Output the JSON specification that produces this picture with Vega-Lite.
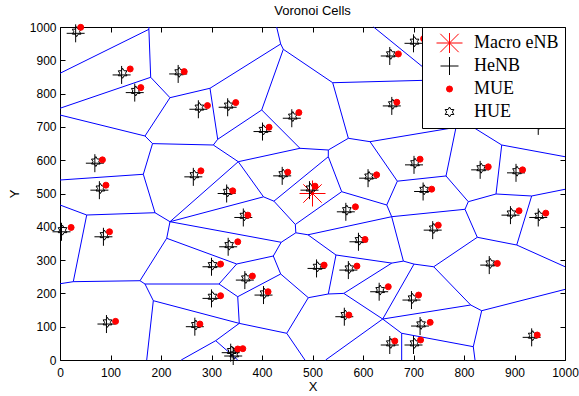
{
  "$schema": "https://vega.github.io/schema/vega-lite/v6.json",
  "width": 505,
  "height": 333,
  "autosize": {"type": "none"},
  "padding": {"left": 60, "top": 27, "right": 14, "bottom": 36},
  "background": "white",
  "title": {"text": "Voronoi Cells", "font": "Liberation Sans", "fontSize": 13, "fontWeight": "normal", "color": "black", "anchor": "middle", "offset": 3},
  "datasets": {
    "edges": [
      {"x":0,"y":861,"x2":176,"y2":993},
      {"x":176,"y":993,"x2":176,"y2":1000},
      {"x":176,"y":993,"x2":179.6,"y2":849},
      {"x":0,"y":756,"x2":179.6,"y2":849},
      {"x":179.6,"y":849,"x2":217.8,"y2":787.7},
      {"x":217.8,"y":787.7,"x2":297,"y2":816},
      {"x":297,"y":816,"x2":437,"y2":949},
      {"x":437,"y":949,"x2":429,"y2":1000},
      {"x":437,"y":949,"x2":442.2,"y2":933},
      {"x":442.2,"y":933,"x2":540,"y2":832.7},
      {"x":442.2,"y":933,"x2":399.4,"y2":750.8},
      {"x":297,"y":816,"x2":312.3,"y2":662.8},
      {"x":312.3,"y":662.8,"x2":399.4,"y2":750.8},
      {"x":217.8,"y":787.7,"x2":168.3,"y2":672.7},
      {"x":0,"y":735.7,"x2":168.3,"y2":672.7},
      {"x":168.3,"y":672.7,"x2":183.2,"y2":649.8},
      {"x":183.2,"y":649.8,"x2":303.6,"y2":645.6},
      {"x":303.6,"y":645.6,"x2":312.3,"y2":662.8},
      {"x":303.6,"y":645.6,"x2":353,"y2":595.5},
      {"x":183.2,"y":649.8,"x2":165,"y2":557.7},
      {"x":0,"y":540.5,"x2":165,"y2":557.7},
      {"x":165,"y":557.7,"x2":188.1,"y2":442.3},
      {"x":0,"y":465.5,"x2":52.9,"y2":435.4},
      {"x":52.9,"y":435.4,"x2":188.1,"y2":442.3},
      {"x":188.1,"y":442.3,"x2":217.8,"y2":415.3},
      {"x":217.8,"y":415.3,"x2":353,"y2":595.5},
      {"x":217.8,"y":415.3,"x2":403,"y2":490},
      {"x":353,"y":595.5,"x2":403,"y2":490},
      {"x":403,"y":490,"x2":423.6,"y2":477},
      {"x":353,"y":595.5,"x2":475.2,"y2":635.7},
      {"x":399.4,"y":750.8,"x2":475.2,"y2":635.7},
      {"x":475.2,"y":635.7,"x2":531.3,"y2":630.6},
      {"x":531.3,"y":630.6,"x2":571,"y2":665.8},
      {"x":531.3,"y":630.6,"x2":531.3,"y2":610.5},
      {"x":531.3,"y":610.5,"x2":423.6,"y2":477},
      {"x":531.3,"y":610.5,"x2":557.8,"y2":505.4},
      {"x":540,"y":832.7,"x2":571,"y2":665.8},
      {"x":571,"y":665.8,"x2":613.9,"y2":655.6},
      {"x":540,"y":832.7,"x2":750,"y2":841},
      {"x":621,"y":1000,"x2":750,"y2":841},
      {"x":613.9,"y":655.6,"x2":668,"y2":537},
      {"x":613.9,"y":655.6,"x2":784.2,"y2":698.8},
      {"x":668,"y":537,"x2":647,"y2":465.5},
      {"x":668,"y":537,"x2":764.4,"y2":552.6},
      {"x":557.8,"y":505.4,"x2":647,"y2":465.5},
      {"x":423.6,"y":477,"x2":466,"y2":407},
      {"x":466,"y":407,"x2":557.8,"y2":505.4},
      {"x":647,"y":465.5,"x2":656.8,"y2":430.3},
      {"x":656.8,"y":430.3,"x2":802,"y2":452.6},
      {"x":656.8,"y":430.3,"x2":680,"y2":297},
      {"x":784.2,"y":698.8,"x2":764.4,"y2":552.6},
      {"x":784.2,"y":698.8,"x2":799,"y2":717},
      {"x":874.7,"y":645.6,"x2":799,"y2":717},
      {"x":874.7,"y":645.6,"x2":1000,"y2":610.5},
      {"x":874.7,"y":645.6,"x2":863.4,"y2":498.5},
      {"x":764.4,"y":552.6,"x2":808.5,"y2":475.4},
      {"x":808.5,"y":475.4,"x2":863.4,"y2":498.5},
      {"x":808.5,"y":475.4,"x2":802,"y2":452.6},
      {"x":863.4,"y":498.5,"x2":934,"y2":492.5},
      {"x":934,"y":492.5,"x2":1000,"y2":512.6},
      {"x":934,"y":492.5,"x2":904.4,"y2":345.3},
      {"x":802,"y":452.6,"x2":826.3,"y2":368.5},
      {"x":826.3,"y":368.5,"x2":904.4,"y2":345.3},
      {"x":904.4,"y":345.3,"x2":1000,"y2":280.2},
      {"x":826.3,"y":368.5,"x2":740,"y2":280},
      {"x":740,"y":280,"x2":701,"y2":288},
      {"x":701,"y":288,"x2":680,"y2":297},
      {"x":740,"y":280,"x2":813.3,"y2":165.2},
      {"x":813.3,"y":165.2,"x2":835,"y2":148},
      {"x":835,"y":148,"x2":1000,"y2":212},
      {"x":835,"y":148,"x2":818.4,"y2":40},
      {"x":818.4,"y":40,"x2":821.8,"y2":0},
      {"x":813.3,"y":165.2,"x2":639,"y2":123},
      {"x":818.4,"y":40,"x2":676.6,"y2":80.2},
      {"x":639,"y":123,"x2":676.6,"y2":80.2},
      {"x":676.6,"y":80.2,"x2":676.6,"y2":0},
      {"x":639,"y":123,"x2":526,"y2":0},
      {"x":639,"y":123,"x2":701,"y2":288},
      {"x":639,"y":123,"x2":562,"y2":200},
      {"x":562,"y":200,"x2":657,"y2":291},
      {"x":562,"y":200,"x2":531.3,"y2":198.2},
      {"x":657,"y":291,"x2":680,"y2":297},
      {"x":657,"y":291,"x2":546.5,"y2":315.3},
      {"x":546.5,"y":315.3,"x2":531.3,"y2":198.2},
      {"x":546.5,"y":315.3,"x2":491,"y2":376},
      {"x":491,"y":376,"x2":656.8,"y2":430.3},
      {"x":491,"y":376,"x2":467,"y2":382},
      {"x":467,"y":382,"x2":466,"y2":407},
      {"x":467,"y":382,"x2":438,"y2":353.5},
      {"x":438,"y":353.5,"x2":217.8,"y2":415.3},
      {"x":438,"y":353.5,"x2":422.4,"y2":312.3},
      {"x":422.4,"y":312.3,"x2":437,"y2":258.3},
      {"x":422.4,"y":312.3,"x2":349.9,"y2":288.3},
      {"x":437,"y":258.3,"x2":491.7,"y2":187.1},
      {"x":491.7,"y":187.1,"x2":531.3,"y2":198.2},
      {"x":491.7,"y":187.1,"x2":449,"y2":80.2},
      {"x":437,"y":258.3,"x2":351.9,"y2":190.1},
      {"x":449,"y":80.2,"x2":355,"y2":110},
      {"x":449,"y":80.2,"x2":485,"y2":0},
      {"x":217.8,"y":415.3,"x2":211.3,"y2":365.5},
      {"x":211.3,"y":365.5,"x2":158.4,"y2":238.1},
      {"x":211.3,"y":365.5,"x2":349.9,"y2":288.3},
      {"x":52.9,"y":435.4,"x2":26.3,"y2":235.2},
      {"x":0,"y":229,"x2":26.3,"y2":235.2},
      {"x":26.3,"y":235.2,"x2":158.4,"y2":238.1},
      {"x":158.4,"y":238.1,"x2":168.3,"y2":228.2},
      {"x":168.3,"y":228.2,"x2":314.9,"y2":228.2},
      {"x":168.3,"y":228.2,"x2":184.8,"y2":178.1},
      {"x":184.8,"y":178.1,"x2":171.7,"y2":0},
      {"x":184.8,"y":178.1,"x2":355,"y2":110},
      {"x":314.9,"y":228.2,"x2":349.9,"y2":288.3},
      {"x":314.9,"y":228.2,"x2":351.9,"y2":190.1},
      {"x":351.9,"y":190.1,"x2":355,"y2":110},
      {"x":355,"y":110,"x2":308.3,"y2":58},
      {"x":308.3,"y":58,"x2":240,"y2":0},
      {"x":308.3,"y":58,"x2":352,"y2":0}
    ],
    "points": [
      {"type":"Macro eNB","x":500,"y":500},
      {"type":"HeNB","x":31,"y":981},{"type":"HeNB","x":122,"y":856},{"type":"HeNB","x":148,"y":803},{"type":"HeNB","x":234,"y":859},{"type":"HeNB","x":274,"y":753},{"type":"HeNB","x":332,"y":759},{"type":"HeNB","x":401,"y":686},{"type":"HeNB","x":459,"y":726},{"type":"HeNB","x":653,"y":913},{"type":"HeNB","x":700,"y":951},{"type":"HeNB","x":657,"y":763},{"type":"HeNB","x":947,"y":703},{"type":"HeNB","x":69,"y":591},{"type":"HeNB","x":78,"y":510},{"type":"HeNB","x":3,"y":385},{"type":"HeNB","x":86,"y":370},{"type":"HeNB","x":264,"y":550},{"type":"HeNB","x":330,"y":500},{"type":"HeNB","x":363,"y":428},{"type":"HeNB","x":333,"y":340},{"type":"HeNB","x":440,"y":553},{"type":"HeNB","x":494,"y":510},{"type":"HeNB","x":610,"y":546},{"type":"HeNB","x":701,"y":586},{"type":"HeNB","x":719,"y":506},{"type":"HeNB","x":566,"y":445},{"type":"HeNB","x":738,"y":390},{"type":"HeNB","x":591,"y":355},{"type":"HeNB","x":832,"y":571},{"type":"HeNB","x":903,"y":562},{"type":"HeNB","x":892,"y":435},{"type":"HeNB","x":947,"y":428},{"type":"HeNB","x":850,"y":285},{"type":"HeNB","x":934,"y":68},{"type":"HeNB","x":508,"y":275},{"type":"HeNB","x":571,"y":270},{"type":"HeNB","x":632,"y":205},{"type":"HeNB","x":403,"y":195},{"type":"HeNB","x":696,"y":180},{"type":"HeNB","x":563,"y":130},{"type":"HeNB","x":713,"y":102},{"type":"HeNB","x":653,"y":45},{"type":"HeNB","x":700,"y":45},{"type":"HeNB","x":92,"y":108},{"type":"HeNB","x":300,"y":280},{"type":"HeNB","x":300,"y":185},{"type":"HeNB","x":267,"y":100},{"type":"HeNB","x":366,"y":240},{"type":"HeNB","x":338,"y":22},{"type":"HeNB","x":343,"y":12},
      {"type":"HUE","x":33,"y":986},{"type":"HUE","x":124,"y":861},{"type":"HUE","x":150,"y":808},{"type":"HUE","x":236,"y":864},{"type":"HUE","x":276,"y":758},{"type":"HUE","x":334,"y":764},{"type":"HUE","x":403,"y":691},{"type":"HUE","x":461,"y":731},{"type":"HUE","x":655,"y":918},{"type":"HUE","x":702,"y":956},{"type":"HUE","x":659,"y":768},{"type":"HUE","x":949,"y":708},{"type":"HUE","x":71,"y":596},{"type":"HUE","x":80,"y":515},{"type":"HUE","x":5,"y":390},{"type":"HUE","x":88,"y":375},{"type":"HUE","x":266,"y":555},{"type":"HUE","x":332,"y":505},{"type":"HUE","x":365,"y":433},{"type":"HUE","x":335,"y":345},{"type":"HUE","x":442,"y":558},{"type":"HUE","x":496,"y":515},{"type":"HUE","x":612,"y":551},{"type":"HUE","x":703,"y":591},{"type":"HUE","x":721,"y":511},{"type":"HUE","x":568,"y":450},{"type":"HUE","x":740,"y":395},{"type":"HUE","x":593,"y":360},{"type":"HUE","x":834,"y":576},{"type":"HUE","x":905,"y":567},{"type":"HUE","x":894,"y":440},{"type":"HUE","x":949,"y":433},{"type":"HUE","x":852,"y":290},{"type":"HUE","x":936,"y":73},{"type":"HUE","x":510,"y":280},{"type":"HUE","x":573,"y":275},{"type":"HUE","x":634,"y":210},{"type":"HUE","x":405,"y":200},{"type":"HUE","x":698,"y":185},{"type":"HUE","x":565,"y":135},{"type":"HUE","x":715,"y":107},{"type":"HUE","x":655,"y":50},{"type":"HUE","x":702,"y":50},{"type":"HUE","x":94,"y":113},{"type":"HUE","x":302,"y":285},{"type":"HUE","x":302,"y":190},{"type":"HUE","x":269,"y":105},{"type":"HUE","x":368,"y":245},{"type":"HUE","x":340,"y":27},{"type":"HUE","x":345,"y":17},
      {"type":"MUE","x":41,"y":999},{"type":"MUE","x":139,"y":874},{"type":"MUE","x":160,"y":818},{"type":"MUE","x":246,"y":866},{"type":"MUE","x":292,"y":764},{"type":"MUE","x":348,"y":773},{"type":"MUE","x":414,"y":699},{"type":"MUE","x":473,"y":743},{"type":"MUE","x":670,"y":919},{"type":"MUE","x":720,"y":965},{"type":"MUE","x":667,"y":774},{"type":"MUE","x":84,"y":601},{"type":"MUE","x":91,"y":525},{"type":"MUE","x":22,"y":398},{"type":"MUE","x":98,"y":385},{"type":"MUE","x":279,"y":568},{"type":"MUE","x":342,"y":508},{"type":"MUE","x":372,"y":435},{"type":"MUE","x":352,"y":355},{"type":"MUE","x":451,"y":564},{"type":"MUE","x":505,"y":522},{"type":"MUE","x":627,"y":556},{"type":"MUE","x":713,"y":603},{"type":"MUE","x":736,"y":513},{"type":"MUE","x":585,"y":460},{"type":"MUE","x":749,"y":405},{"type":"MUE","x":604,"y":362},{"type":"MUE","x":848,"y":580},{"type":"MUE","x":916,"y":571},{"type":"MUE","x":909,"y":448},{"type":"MUE","x":962,"y":441},{"type":"MUE","x":866,"y":290},{"type":"MUE","x":945,"y":75},{"type":"MUE","x":523,"y":285},{"type":"MUE","x":588,"y":282},{"type":"MUE","x":650,"y":220},{"type":"MUE","x":412,"y":205},{"type":"MUE","x":710,"y":195},{"type":"MUE","x":572,"y":135},{"type":"MUE","x":733,"y":113},{"type":"MUE","x":663,"y":57},{"type":"MUE","x":714,"y":60},{"type":"MUE","x":110,"y":116},{"type":"MUE","x":318,"y":288},{"type":"MUE","x":318,"y":193},{"type":"MUE","x":277,"y":108},{"type":"MUE","x":381,"y":252},{"type":"MUE","x":352,"y":33},{"type":"MUE","x":362,"y":34},{"type":"MUE","x":960,"y":715}
    ]
  },
  "layer": [
    {
      "data": {"name": "edges"},
      "mark": {"type": "rule", "color": "#0000ff", "strokeWidth": 1},
      "encoding": {
        "x": {"field": "x", "type": "quantitative", "scale": {"domain": [0, 1000], "nice": false, "zero": false},
              "axis": {"orient": "bottom", "title": "X", "format": "d", "values": [0,100,200,300,400,500,600,700,800,900,1000], "labelPadding": 12, "titlePadding": 2}},
        "y": {"field": "y", "type": "quantitative", "scale": {"domain": [0, 1000], "nice": false, "zero": false},
              "axis": {"orient": "left", "title": "Y", "format": "d", "values": [0,100,200,300,400,500,600,700,800,900,1000], "labelPadding": 9, "titlePadding": 8}},
        "x2": {"field": "x2"},
        "y2": {"field": "y2"}
      }
    },
    {
      "data": {"name": "points"},
      "mark": {"type": "point", "opacity": 1, "strokeWidth": 1},
      "encoding": {
        "x": {"field": "x", "type": "quantitative", "scale": {"domain": [0, 1000], "nice": false, "zero": false},
              "axis": {"orient": "top", "title": null, "labels": false, "minExtent": 0, "maxExtent": 0, "values": [0,100,200,300,400,500,600,700,800,900,1000]}},
        "y": {"field": "y", "type": "quantitative", "scale": {"domain": [0, 1000], "nice": false, "zero": false},
              "axis": {"orient": "right", "title": null, "labels": false, "minExtent": 0, "maxExtent": 0, "values": [0,100,200,300,400,500,600,700,800,900,1000]}},
        "shape": {"field": "type", "type": "nominal", "legend": {"title": null},
                  "scale": {"domain": ["Macro eNB", "HeNB", "MUE", "HUE"],
                            "range": ["M-1,0L1,0M0,-1L0,1M-0.707,-0.707L0.707,0.707M-0.707,0.707L0.707,-0.707", "M-1,0L1,0M0,-1L0,1", "circle", "M0,-1L-0.289,-0.5L-0.866,-0.5L-0.577,0L-0.866,0.5L-0.289,0.5L0,1L0.289,0.5L0.866,0.5L0.577,0L0.866,-0.5L0.289,-0.5Z"]}},
        "stroke": {"field": "type", "type": "nominal", "legend": {"title": null},
                   "scale": {"domain": ["Macro eNB", "HeNB", "MUE", "HUE"], "range": ["#ff0000", "#000000", "#ff0000", "#000000"]}},
        "fill": {"field": "type", "type": "nominal", "legend": {"title": null},
                 "scale": {"domain": ["Macro eNB", "HeNB", "MUE", "HUE"], "range": ["transparent", "transparent", "#ff0000", "transparent"]}},
        "size": {"field": "type", "type": "nominal", "legend": {"title": null},
                 "scale": {"type": "ordinal", "domain": ["Macro eNB", "HeNB", "MUE", "HUE"], "range": [676, 324, 36, 100]}}
      }
    }
  ],
  "resolve": {"axis": {"x": "independent", "y": "independent"}},
  "config": {
    "view": {"stroke": "black", "strokeWidth": 1},
    "axis": {
      "domain": false, "grid": false, "ticks": true, "tickSize": -5, "tickColor": "black", "tickWidth": 1,
      "labelFont": "Liberation Sans", "labelFontSize": 12, "labelColor": "black", "labelFlush": false, "labelOverlap": false,
      "titleFont": "Liberation Sans", "titleFontSize": 13, "titleFontWeight": "normal", "titleColor": "black"
    },
    "legend": {
      "orient": "top-right", "offset": 0, "padding": 6, "fillColor": "white", "strokeColor": "black",
      "labelFont": "Liberation Serif", "labelFontSize": 18, "labelColor": "black",
      "clipHeight": 20, "rowPadding": 3, "symbolOffset": 8, "labelOffset": 11,
      "symbolStrokeWidth": 1, "symbolOpacity": 1
    }
  }
}
